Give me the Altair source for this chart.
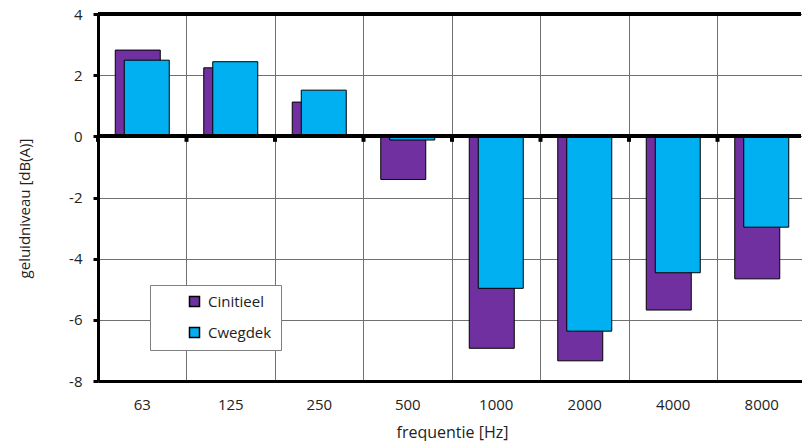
import altair as alt
import pandas as pd

freqs = ["63", "125", "250", "500", "1000", "2000", "4000", "8000"]
cinitieel = [2.82, 2.24, 1.12, -1.41, -6.93, -7.34, -5.68, -4.66]
cwegdek = [2.49, 2.44, 1.51, -0.12, -4.97, -6.37, -4.46, -2.97]
series_names = ["Cinitieel", "Cwegdek"]
series_colors = ["#7030A0", "#00B0F0"]
y_ticks = [-8, -6, -4, -2, 0, 2, 4]

df = pd.DataFrame(
    {
        "freq": freqs * 2,
        "series": [series_names[0]] * len(freqs) + [series_names[1]] * len(freqs),
        "value": cinitieel + cwegdek,
    }
)
fdf = pd.DataFrame({"freq": freqs})

W, H = 703, 367
FONT = "Open Sans"

xscale = alt.Scale(domain=freqs, range=[0, 708], paddingInner=0, paddingOuter=0)
yscale = alt.Scale(domain=[-8, 4], nice=False, zero=False)

color = alt.Color(
    "series:N",
    scale=alt.Scale(domain=series_names, range=series_colors),
    legend=alt.Legend(
        title=None,
        orient="none",
        legendX=52,
        legendY=271,
        fillColor="white",
        strokeColor="#808080",
        padding=9,
        symbolType="square",
        symbolSize=100,
        symbolStrokeColor="black",
        symbolStrokeWidth=1.5,
        symbolOffset=28,
        labelOffset=6,
        labelFontSize=15,
        labelFont=FONT,
        labelColor="#222222",
        rowPadding=14,
        labelExpr="datum.label + '\u00a0\u00a0\u00a0\u00a0\u00a0\u00a0\u00a0\u00a0'",
    ),
)

x_enc = alt.X("freq:N", scale=xscale, sort=freqs, title="frequentie [Hz]")
y_enc = alt.Y(
    "value:Q",
    scale=yscale,
    title="geluidniveau [dB(A)]",
    axis=alt.Axis(values=y_ticks, labelExpr="'' + datum.value"),
)

base = alt.Chart(df)

bars1 = base.transform_filter(alt.datum.series == series_names[0]).mark_bar(
    width=45, xOffset=-4.5, stroke="black", strokeWidth=1
).encode(x=x_enc, y=y_enc, y2=alt.datum(0), color=color)

bars2 = base.transform_filter(alt.datum.series == series_names[1]).mark_bar(
    width=45, xOffset=4.5, stroke="black", strokeWidth=1
).encode(x=x_enc, y=y_enc, y2=alt.datum(0), color=color)

zero_line = base.mark_rule(color="black", strokeWidth=3.5).encode(
    y=alt.datum(0), x=alt.value(0), x2=alt.value(W)
)

top_line = base.mark_rule(color="black", strokeWidth=3).encode(
    y=alt.value(0), x=alt.value(0), x2=alt.value(W)
)

zero_ticks = alt.Chart(fdf).mark_rule(color="black", strokeWidth=4).encode(
    x=alt.X("freq:N", scale=xscale, sort=freqs, bandPosition=0, title="frequentie [Hz]"),
    y=alt.datum(0),
    y2=alt.datum(-0.18),
)

chart = (
    alt.layer(bars1, bars2, zero_line, zero_ticks, top_line)
    .properties(
        width=W,
        height=H,
        autosize=alt.AutoSizeParams(type="none"),
        padding={"left": 98, "top": 14, "right": 1, "bottom": 60},
    )
    .configure_view(stroke=None)
    .configure_axis(
        labelFont=FONT,
        titleFont=FONT,
        labelColor="#222222",
        titleColor="#222222",
        titleFontWeight="normal",
        domainColor="black",
        domainWidth=3,
        gridColor="#707070",
        gridWidth=1,
        grid=True,
    )
    .configure_axisX(
        bandPosition=0,
        ticks=False,
        labelAngle=0,
        labelFontSize=15,
        labelPadding=16,
        titleFontSize=16,
        titleBaseline="middle",
        titleY=51,
        titleX=354,
    )
    .configure_axisY(
        tickColor="black",
        tickWidth=3,
        tickSize=5,
        labelFontSize=15,
        labelPadding=11,
        titleFontSize=15,
        titleAngle=-90,
        titleX=-74,
        titleY=194,
        titleBaseline="middle",
        titleAlign="center",
    )
)

chart.save("out.html", embed_options={"renderer": "svg", "actions": False})
